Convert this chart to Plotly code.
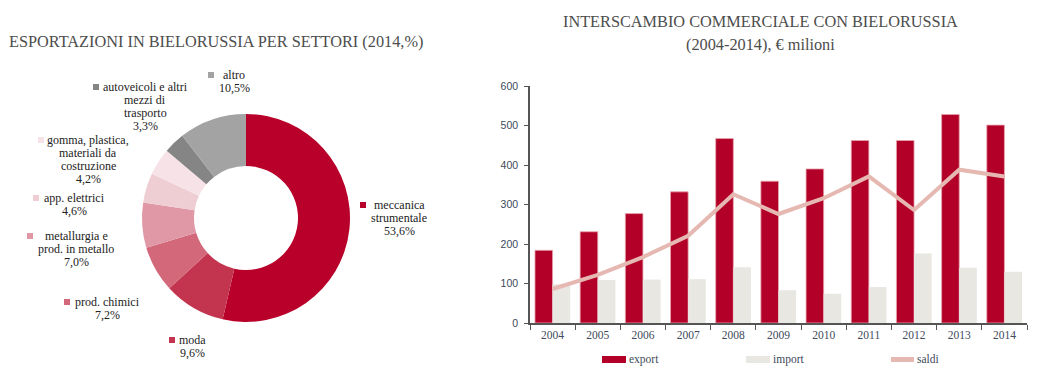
import plotly.graph_objects as go

W, H = 1038, 372

# ---------------- data ----------------
sectors = ["meccanica strumentale", "moda", "prod. chimici",
           "metallurgia e prod. in metallo", "app. elettrici",
           "gomma, plastica, materiali da costruzione",
           "autoveicoli e altri mezzi di trasporto", "altro"]
sector_lines = [["meccanica", "strumentale"], ["moda"], ["prod. chimici"],
                ["metallurgia e", "prod. in metallo"], ["app. elettrici"],
                ["gomma, plastica,", "materiali da", "costruzione"],
                ["autoveicoli e altri", "mezzi di", "trasporto"], ["altro"]]
shares = [53.6, 9.6, 7.2, 7.0, 4.6, 4.2, 3.3, 10.5]

years = ["2004", "2005", "2006", "2007", "2008", "2009", "2010", "2011", "2012", "2013", "2014"]
export = [184, 231, 277, 332, 467, 359, 390, 462, 462, 528, 501]
imports = [98, 109, 110, 111, 141, 83, 74, 91, 176, 140, 130]
saldi = [86, 122, 167, 221, 326, 276, 316, 371, 286, 388, 371]
y_ticks = [0, 100, 200, 300, 400, 500, 600]

# ---------------- styles ----------------
pie_colors = ["#B8002A", "#C3354F", "#D2687A", "#E098A6", "#EECDD3",
              "#F7E3E7", "#858585", "#A3A3A3"]
c_export = "#B20028"
c_import = "#E9E7E2"
c_saldi = "#E6B8B2"
txt = "#222222"
axis_txt = "#404A5A"
serif = "Liberation Serif, Times New Roman, serif"
sans = "Liberation Sans, Arial, sans-serif"


def px(x):
    return x / W


def py(y):
    return 1 - y / H


fig = go.Figure()

# donut
cx, cy, r = 246, 218, 104
fig.add_trace(go.Pie(
    labels=sectors, values=shares, hole=0.5, sort=False,
    direction="clockwise", rotation=0,
    marker=dict(colors=pie_colors, line=dict(color="white", width=0)),
    textinfo="none", showlegend=False, automargin=False,
    domain=dict(x=[px(cx - r), px(cx + r)], y=[py(cy + r), py(cy - r)]),
))

# bars + line
fig.add_trace(go.Bar(x=years, y=export, name="export",
                     marker=dict(color=c_export, line=dict(color="#E7A6AE", width=0.8))))
fig.add_trace(go.Bar(x=years, y=imports, name="import",
                     marker=dict(color=c_import, line=dict(width=0))))
fig.add_trace(go.Scatter(x=years, y=saldi, name="saldi", mode="lines",
                         line=dict(color=c_saldi, width=4)))

annotations = []
shapes = []

# donut labels: (square x, text center x, first line y)
label_pos = [(363, 399, 205), (172, 192, 340), (67, 107, 302), (30, 76, 236),
             (36, 74, 198), (41, 88, 140), (96, 145, 87), (211, 234, 75)]
line_h = 13
for i, (sx, tx, ty) in enumerate(label_pos):
    lines = sector_lines[i] + [f"{shares[i]:.1f}%".replace(".", ",")]
    for j, ln in enumerate(lines):
        annotations.append(dict(
            x=px(tx), y=py(ty + j * line_h), xref="paper", yref="paper",
            text=ln, showarrow=False, xanchor="center", yanchor="middle",
            font=dict(family=serif, size=12, color=txt)))
    shapes.append(dict(type="rect", xref="paper", yref="paper",
                       x0=px(sx - 3), x1=px(sx + 3), y0=py(ty + 3), y1=py(ty - 3),
                       fillcolor=pie_colors[i], line=dict(width=0)))

# titles
title_font = dict(family=serif, size=16.3, color="#4D4D4D")
annotations.append(dict(x=px(7), y=py(41), xref="paper", yref="paper",
                        text="ESPORTAZIONI IN BIELORUSSIA PER SETTORI (2014,%)",
                        showarrow=False, xanchor="left", yanchor="middle",
                        font=title_font))
annotations.append(dict(x=px(760), y=py(22), xref="paper", yref="paper",
                        text="INTERSCAMBIO COMMERCIALE CON BIELORUSSIA",
                        showarrow=False, xanchor="center", yanchor="middle",
                        font=title_font))
annotations.append(dict(x=px(760), y=py(44), xref="paper", yref="paper",
                        text="(2004-2014), € milioni",
                        showarrow=False, xanchor="center", yanchor="middle",
                        font=title_font))

# legend (custom)
leg = [("export", c_export, 602, "rect"), ("import", c_import, 746, "rect"),
       ("saldi", c_saldi, 890, "line")]
for name, col, lx, kind in leg:
    if kind == "rect":
        shapes.append(dict(type="rect", xref="paper", yref="paper",
                           x0=px(lx), x1=px(lx + 24), y0=py(363), y1=py(356),
                           fillcolor=col, line=dict(width=0)))
    else:
        shapes.append(dict(type="line", xref="paper", yref="paper",
                           x0=px(lx + 1), x1=px(lx + 24), y0=py(359.5), y1=py(359.5),
                           line=dict(color=col, width=5)))
    annotations.append(dict(x=px(lx + 25), y=py(359), xref="paper", yref="paper",
                            text=name, showarrow=False, xanchor="left", yanchor="middle",
                            font=dict(family=serif, size=11.5, color=axis_txt)))

fig.update_layout(
    width=W, height=H,
    margin=dict(l=0, r=0, t=0, b=0, pad=0, autoexpand=False),
    paper_bgcolor="white", plot_bgcolor="white",
    showlegend=False,
    barmode="group", bargap=0.22, bargroupgap=0,
    xaxis=dict(domain=[px(530), px(1027)], type="category", automargin=False,
               showline=True, linecolor="#555555", linewidth=1.5,
               ticks="outside", tickson="boundaries", ticklen=5,
               tickcolor="#555555", tickwidth=1.2,
               showgrid=False, zeroline=False,
               tickfont=dict(family=serif, size=11.5, color=axis_txt)),
    yaxis=dict(domain=[py(323), py(86)], range=[0, 600], automargin=False,
               tickvals=y_ticks, showline=True, linecolor="#555555", linewidth=1.5,
               ticks="outside", ticklen=4, tickcolor="#555555", tickwidth=1.2,
               showgrid=False, zeroline=False, ticklabelstandoff=4,
               tickfont=dict(family=sans, size=10.5, color=axis_txt)),
    annotations=annotations,
    shapes=shapes,
)

fig.write_html("out.html", config={"displayModeBar": False},
               post_script="document.body.style.margin='0';document.body.style.overflow='hidden';")
